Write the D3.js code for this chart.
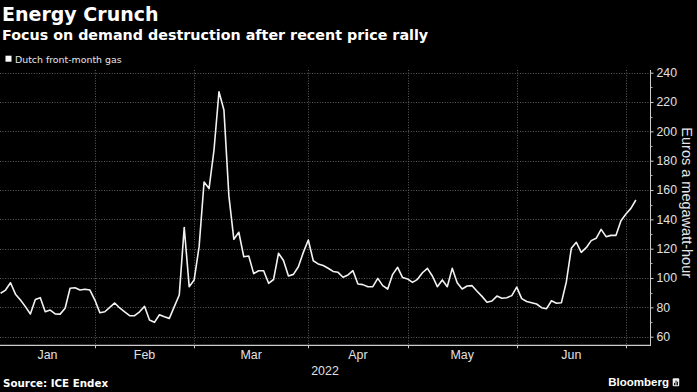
<!DOCTYPE html>
<html><head><meta charset="utf-8">
<script src="https://cdn.jsdelivr.net/npm/d3@7"></script>
<style>body{margin:0;background:#000;}svg{display:block;}</style>
</head><body>
<svg id="chart" width="697" height="392"></svg>
<script>
// ---- data (EUR/MWh, Dutch front-month gas, trading days per month) ----
const monthLabels = ["Jan", "Feb", "Mar", "Apr", "May", "Jun", "Jul"];
const janValues = [89.6, 91.8, 96.8, 89, 85, 80.5, 75.5, 85.3, 86.6, 77, 78.2, 75.5, 75.4, 79.4, 93, 93.4, 91.8, 92.3, 91.8];
const febValues = [85, 76.3, 77, 80, 83, 79.6, 77, 74.3, 74.3, 77, 80.7, 71.4, 69.8, 75, 73.6, 72.5, 80.5, 88.4, 134.5, 94.1];
const marValues = [98.7, 121.4, 165.5, 161, 187.3, 227, 214.6, 156, 126.4, 131.2, 114.5, 115, 103, 105, 105, 96.4, 99, 116.9, 112, 101.4, 102.5, 107.7, 117.5];
const aprValues = [125.9, 111.8, 109.6, 108.5, 106.7, 104.5, 103.9, 100.5, 102.1, 105, 95.9, 95.5, 94.1, 94.1, 99.8, 94.8, 92.5, 102.5, 107.3, 100.3];
const mayValues = [99.4, 97, 99.1, 103.6, 106.6, 101.4, 94.1, 98.7, 94.1, 106.6, 96.8, 92.5, 94.6, 94.8, 91, 87.5, 83.5, 84.3, 87.7, 86.2, 86.6, 88];
const junValues = [93.8, 86, 84, 83.2, 82.3, 79.8, 79.1, 84.5, 82.8, 83.2, 97.5, 120.3, 124.4, 117.5, 120.7, 125.5, 127.1, 133.2, 128.2, 129.1, 129.1, 139.1];
const julValues = [143.7, 147.5, 153.2];
const yTickValues = [60, 80, 100, 120, 140, 160, 180, 200, 220, 240];
const yearLabel = "2022";
const seriesName = "Dutch front-month gas";
const titleText = "Energy Crunch";
const subtitleText = "Focus on demand destruction after recent price rally";
const yTitle = "Euros a megawatt-hour";
const sourceText = "Source: ICE Endex";

// ---- build series ----
const monthArrays = [janValues, febValues, marValues, aprValues, mayValues, junValues, julValues];
const points = [];
const monthStarts = [];
monthArrays.forEach((arr, m) => {
  monthStarts.push(points.length);
  arr.forEach(v => points.push({i: points.length, v}));
});

// ---- layout ----
const svg = d3.select("#chart");
const plot = {left: 0, right: 650, top: 70, bottom: 345.3};
const x = d3.scaleLinear().domain([-0.12, 130.85]).range([plot.left, plot.right]);
const y = d3.scaleLinear().domain([60, 240]).range([336.7, 72.7]);

svg.append("rect").attr("width", 697).attr("height", 392).attr("fill", "#000");

// titles
const sansB = "'DejaVu Sans', Verdana, sans-serif";
const narrow = "'Liberation Sans', Arial, sans-serif";
svg.append("text").attr("x", 2).attr("y", 20.6).text(titleText)
  .attr("fill", "#fff").attr("font-family", sansB).attr("font-weight", "bold").attr("font-size", 19);
svg.append("text").attr("x", 2).attr("y", 40.2).text(subtitleText)
  .attr("fill", "#fff").attr("font-family", sansB).attr("font-weight", "bold").attr("font-size", 14.3);

// legend
svg.append("rect").attr("x", 5.5).attr("y", 55.7).attr("width", 6).attr("height", 6).attr("fill", "#fff");
svg.append("text").attr("x", 15).attr("y", 62.5).text(seriesName)
  .attr("fill", "#e6e6e6").attr("font-family", sansB).attr("font-size", 9.4);

// gridlines
const grid = svg.append("g").attr("stroke", "#5c5c5c").attr("stroke-width", 1).attr("stroke-dasharray", "1,1.6");
grid.selectAll("line.h").data(yTickValues).join("line").attr("class", "h")
  .attr("x1", plot.left).attr("x2", plot.right)
  .attr("y1", d => Math.round(y(d)) + 0.5).attr("y2", d => Math.round(y(d)) + 0.5);
const tickIdx = monthStarts.slice(1);
grid.selectAll("line.v").data(tickIdx).join("line").attr("class", "v")
  .attr("x1", d => Math.round(x(d)) + 0.5).attr("x2", d => Math.round(x(d)) + 0.5)
  .attr("y1", plot.top).attr("y2", plot.bottom);

// right y axis
const yAxis = d3.axisRight(y).tickValues(yTickValues).tickSize(3).tickPadding(3);
const ya = svg.append("g").attr("transform", `translate(${plot.right + 0.5},0)`).call(yAxis);
ya.select(".domain").remove();
ya.selectAll("line").attr("stroke", "#ccc");
ya.selectAll("text").attr("fill", "#e0e0e0").attr("font-family", narrow).attr("font-size", 12.3);
const minor = d3.range(70, 240, 20);
svg.append("g").selectAll("line").data(minor).join("line")
  .attr("x1", plot.right).attr("x2", plot.right + 2.5)
  .attr("y1", d => Math.round(y(d)) + 0.5).attr("y2", d => Math.round(y(d)) + 0.5)
  .attr("stroke", "#aaa");
svg.append("line").attr("x1", plot.right + 0.5).attr("x2", plot.right + 0.5)
  .attr("y1", plot.top).attr("y2", plot.bottom).attr("stroke", "#ccc");

// bottom axis
svg.append("line").attr("x1", plot.left).attr("x2", plot.right + 1)
  .attr("y1", plot.bottom).attr("y2", plot.bottom).attr("stroke", "#ccc").attr("stroke-width", 1.2);
svg.append("g").selectAll("line").data(tickIdx).join("line")
  .attr("x1", d => Math.round(x(d)) + 0.5).attr("x2", d => Math.round(x(d)) + 0.5)
  .attr("y1", plot.bottom).attr("y2", plot.bottom + 3).attr("stroke", "#ccc");

// month labels centred in visible month spans
const bounds = [plot.left, ...tickIdx.map(d => x(d)), plot.right];
monthLabels.forEach((m, k) => {
  const a = bounds[k], b = bounds[k + 1];
  if (b - a < 40) return;
  svg.append("text").attr("x", (a + b) / 2).attr("y", 358.8).attr("text-anchor", "middle")
    .text(m).attr("fill", "#e0e0e0").attr("font-family", narrow).attr("font-size", 12.4);
});
svg.append("text").attr("x", (plot.left + plot.right) / 2).attr("y", 375).attr("text-anchor", "middle")
  .text(yearLabel).attr("fill", "#e0e0e0").attr("font-family", narrow).attr("font-size", 12.4);

// y-axis title
svg.append("text").attr("transform", "translate(682,202.7) rotate(90)").attr("text-anchor", "middle")
  .text(yTitle).attr("fill", "#e6e6e6").attr("font-family", narrow).attr("font-size", 14.5);

// clip + line
svg.append("clipPath").attr("id", "clip").append("rect")
  .attr("x", plot.left).attr("y", plot.top - 5).attr("width", plot.right - plot.left).attr("height", plot.bottom - plot.top + 5);
const line = d3.line().x(d => x(d.i)).y(d => y(d.v));
svg.append("path").datum(points).attr("clip-path", "url(#clip)")
  .attr("d", line).attr("fill", "none").attr("stroke", "#f2f2f2").attr("stroke-width", 1.6)
  .attr("stroke-linejoin", "round");

// footer
svg.append("text").attr("x", 3).attr("y", 387).text(sourceText)
  .attr("fill", "#fff").attr("font-family", sansB).attr("font-weight", "bold").attr("font-size", 10.3);
svg.append("text").attr("x", 669).attr("y", 386.3).attr("text-anchor", "end").text("Bloomberg")
  .attr("fill", "#fff").attr("font-family", narrow).attr("font-weight", "bold").attr("font-size", 11.5);
const logo = svg.append("g").attr("transform", "translate(672.7,378.3)");
logo.append("rect").attr("width", 6.5).attr("height", 8).attr("rx", 1).attr("fill", "#eee");
[[1.4, 4.5, 2.5], [2.9, 2.2, 4.8], [4.4, 3.4, 3.6]].forEach(([bx, by, bh]) =>
  logo.append("rect").attr("x", bx).attr("y", by).attr("width", 0.9).attr("height", bh).attr("fill", "#000"));
</script>
</body></html>
